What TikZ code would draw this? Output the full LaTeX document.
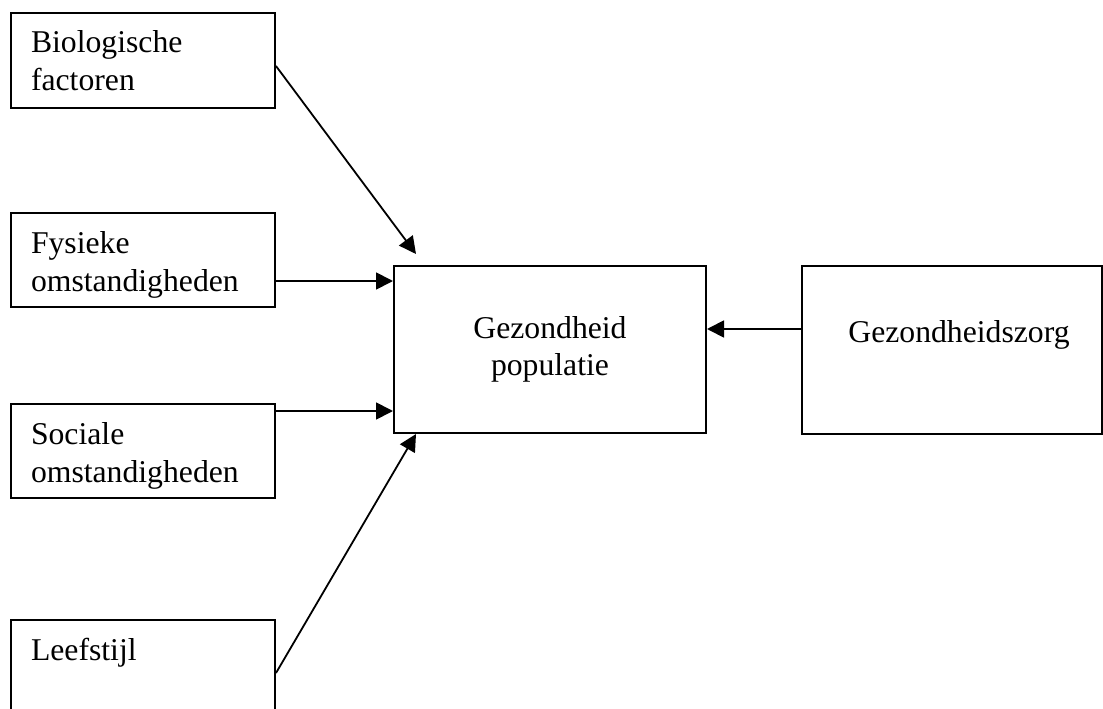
\documentclass[tikz,border=0pt]{standalone}
\usepackage{fontspec}
\setmainfont{Liberation Serif}
\usetikzlibrary{arrows.meta,calc}
% top-aligned text block of a given inner height
\newcommand{\toplines}[2]{\parbox[t][#1][t]{224pt}{\strut #2}}
\begin{document}
\begin{tikzpicture}[x=1pt,y=-1pt,
  every node/.style={font=\fontsize{31.7}{38}\selectfont},
  factor/.style={draw, line width=2pt, rectangle, anchor=north west,
    inner xsep=20pt, inner ysep=13.4pt},
  central/.style={draw, line width=2pt, rectangle, minimum width=312pt,
    minimum height=167pt, align=center,
    font=\fontsize{31.7}{36.5}\selectfont},
  link/.style={line width=1.8pt, -{Triangle[length=17pt,width=17pt]}}]
\useasboundingbox (0,0) rectangle (1103,709);

% determinants on the left
\node[factor] (bio) at (10,12)  {\toplines{68.2pt}{Biologische\\factoren}};
\node[factor] (fys) at (10,212) {\toplines{67.2pt}{Fysieke\\omstandigheden}};
\node[factor] (soc) at (10,403) {\toplines{67.2pt}{Sociale\\omstandigheden}};
\node[factor] (lee) at (10,619) {\toplines{103pt}{Leefstijl}};

% outcome and health care
\node[central] (gez) at (550,349.5) {Gezondheid\\populatie};
\node[central, minimum width=300pt, minimum height=168pt] (zorg) at (952,350)
  {\hspace*{14pt}\raisebox{8pt}[0pt][0pt]{Gezondheidszorg}};

% connector end points
\coordinate (bio-out) at ([yshift=-5.5pt]bio.east);
\coordinate (bio-in)  at ([xshift=23pt,yshift=11pt]gez.north west);
\coordinate (fys-out) at ([yshift=-21pt]fys.east);
\coordinate (soc-out) at ([yshift=40pt]soc.east);
\coordinate (lee-out) at ([yshift=-54pt]lee.north east);
\coordinate (lee-in)  at ([xshift=23pt]gez.south west);
\coordinate (zorg-out) at ([yshift=21pt]zorg.west);

\draw[link] (bio-out) -- (bio-in);
\draw[link] (fys-out) -- (gez.west |- fys-out);
\draw[link] (soc-out) -- (gez.west |- soc-out);
\draw[link] (lee-out) -- (lee-in);
\draw[link] (zorg-out) -- (gez.east |- zorg-out);
\end{tikzpicture}
\end{document}
